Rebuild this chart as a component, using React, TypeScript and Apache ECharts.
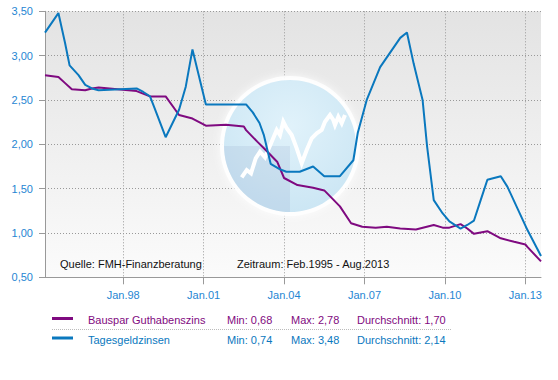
import React, { useEffect, useRef } from "react";
import * as echarts from "echarts";

// ---- data ----
const monthNames = ["Jan", "Feb", "Mär", "Apr", "Mai", "Jun", "Jul", "Aug", "Sep", "Okt", "Nov", "Dez"];
// monthly categories Feb.95 .. Aug.13
const categories: string[] = [];
for (let m = 0; m <= 222; m++) {
  const t = 1 + m;
  const year = 1995 + Math.floor(t / 12);
  categories.push(monthNames[t % 12] + "." + String(year % 100).padStart(2, "0"));
}
const tickYears = ["98", "01", "04", "07", "10", "13"];

const bausparDates = [
  "Feb.95", "Aug.95", "Nov.95", "Feb.96", "Aug.96", "Nov.96", "Feb.97", "Jul.98", "Jan.99", "Aug.99",
  "Feb.00", "Aug.00", "Nov.00", "Feb.01", "Nov.01", "Jul.02", "Aug.02", "Jan.03", "Mai.03", "Okt.03",
  "Jan.04", "Jul.04", "Feb.05", "Jul.05", "Feb.06", "Jul.06", "Dez.06", "Jun.07", "Nov.07", "Mai.08",
  "Dez.08", "Aug.09", "Dez.09", "Mär.10", "Aug.10", "Nov.10", "Feb.11", "Aug.11", "Feb.12", "Aug.12",
  "Jan.13", "Feb.13", "Aug.13",
];
const bausparValues = [
  2.78, 2.76, 2.69, 2.62, 2.61, 2.63, 2.64, 2.60, 2.54, 2.54,
  2.33, 2.29, 2.25, 2.21, 2.22, 2.20, 2.16, 2.03, 1.93, 1.80,
  1.62, 1.54, 1.51, 1.48, 1.30, 1.11, 1.07, 1.06, 1.07, 1.05,
  1.04, 1.09, 1.06, 1.06, 1.10, 1.05, 0.99, 1.02, 0.94, 0.90,
  0.87, 0.84, 0.68,
];

const tagesDates = [
  "Feb.95", "Aug.95", "Nov.95", "Jan.96", "Mai.96", "Aug.96", "Nov.96", "Feb.97", "Jul.98", "Okt.98",
  "Jan.99", "Mär.99", "Aug.99", "Feb.00", "Mai.00", "Aug.00", "Feb.01", "Aug.02", "Nov.02", "Feb.03",
  "Apr.03", "Jul.03", "Nov.03", "Feb.04", "Aug.04", "Feb.05", "Jul.05", "Feb.06", "Aug.06", "Okt.06",
  "Feb.07", "Aug.07", "Mai.08", "Aug.08", "Nov.08", "Mär.09", "Mai.09", "Aug.09", "Dez.09", "Mär.10",
  "Aug.10", "Nov.10", "Feb.11", "Mai.11", "Aug.11", "Feb.12", "Mai.12", "Feb.13", "Aug.13",
];
const tagesValues = [
  3.26, 3.48, 3.14, 2.89, 2.78, 2.67, 2.63, 2.61, 2.63, 2.59,
  2.54, 2.41, 2.08, 2.39, 2.65, 3.07, 2.45, 2.45, 2.36, 2.24,
  2.10, 1.78, 1.72, 1.69, 1.69, 1.75, 1.64, 1.64, 1.82, 2.13,
  2.50, 2.87, 3.20, 3.26, 2.91, 2.50, 1.98, 1.37, 1.22, 1.13,
  1.05, 1.09, 1.14, 1.37, 1.60, 1.64, 1.52, 1.03, 0.74,
];

const seriesNames = ["Bauspar Guthabenszins", "Tagesgeldzinsen"];
const seriesColors = ["#7f0a80", "#0a78be"];
const statMin = ["0,68", "0,74"];
const statMax = ["2,78", "3,48"];
const statAvg = ["1,70", "2,14"];

const sourceText = "Quelle: FMH-Finanzberatung";
const periodText = "Zeitraum: Feb.1995 - Aug.2013";

const globeLine = [
  [241.7, 177.3], [246.7, 170], [251, 173.3], [255.7, 158.3], [260, 151.7], [265, 157.3],
  [271.7, 141.7], [276.7, 130], [280, 135], [283.3, 121.7], [286.7, 128.3], [291.7, 135],
  [296.7, 148.3], [301.7, 163.3], [306.7, 150], [311.7, 138.3], [316.7, 133.3], [321.7, 130],
  [325, 121.7], [330, 115], [333.3, 120], [335, 125], [338.3, 116.7], [341.7, 123.3], [345, 115],
];

const FONT = "'Liberation Sans', Arial, sans-serif";
const isTick = (_i: number, v: string) =>
  v.startsWith("Jan.") && tickYears.includes(v.slice(4));

export default function App() {
  const ref = useRef<HTMLDivElement>(null);
  useEffect(() => {
    if (!ref.current) return;
    const chart = echarts.init(ref.current, undefined, { renderer: "svg" });

    const legendGraphics: any[] = [];
    const rowY = [320, 339.5];
    seriesNames.forEach((name, i) => {
      const y = rowY[i];
      const c = seriesColors[i];
      legendGraphics.push(
        { type: "line", shape: { x1: 52, y1: y - 1.5, x2: 73, y2: y - 1.5 }, style: { stroke: c, lineWidth: 3 } },
        { type: "text", x: 88, y, style: { text: name, fill: c, font: `11px ${FONT}`, textVerticalAlign: "middle" } },
        { type: "text", x: 227, y, style: { text: "Min: " + statMin[i], fill: c, font: `11px ${FONT}`, textVerticalAlign: "middle" } },
        { type: "text", x: 291, y, style: { text: "Max: " + statMax[i], fill: c, font: `11px ${FONT}`, textVerticalAlign: "middle" } },
        { type: "text", x: 357, y, style: { text: "Durchschnitt: " + statAvg[i], fill: c, font: `11px ${FONT}`, textVerticalAlign: "middle" } }
      );
    });
    legendGraphics.push({
      type: "line",
      shape: { x1: 52, y1: 329.5, x2: 452, y2: 329.5 },
      style: { stroke: "#bbbbbb", lineWidth: 1, lineDash: [1, 1] },
    });

    const option: any = {
      animation: false,
      backgroundColor: "#ffffff",
      grid: {
        left: 45,
        right: 17,
        top: 11.3,
        bottom: 102.7,
        show: true,
        borderWidth: 0,
        backgroundColor: new echarts.graphic.LinearGradient(0, 0, 0, 1, [
          { offset: 0, color: "#e3e3e3" },
          { offset: 1, color: "#fbfbfb" },
        ]),
      },
      xAxis: {
        type: "category",
        data: categories,
        boundaryGap: false,
        axisLine: { lineStyle: { color: "#999999", width: 1 } },
        axisTick: { show: true, interval: isTick, length: 7, lineStyle: { color: "#999999" } },
        axisLabel: {
          interval: isTick,
          color: "#1f86d3",
          fontFamily: FONT,
          fontSize: 11,
          margin: 12,
        },
        splitLine: {
          show: true,
          interval: isTick,
          lineStyle: { color: "#999999", type: [1, 2], width: 1 },
        },
      },
      yAxis: {
        type: "value",
        min: 0.5,
        max: 3.5,
        interval: 0.5,
        axisLine: { show: true, lineStyle: { color: "#999999", width: 1 } },
        axisTick: { show: true, length: 6, lineStyle: { color: "#999999" } },
        axisLabel: {
          color: "#1f86d3",
          fontFamily: FONT,
          fontSize: 11,
          margin: 12,
          formatter: (v: number) => v.toFixed(2).replace(".", ","),
        },
        splitLine: { show: true, lineStyle: { color: "#999999", type: [1, 2], width: 1 } },
      },
      graphic: [
        {
          type: "group",
          z: 1,
          children: [
            {
              type: "circle",
              shape: { cx: 290, cy: 146, r: 70 },
              style: { fill: "rgba(255,255,255,0.85)", shadowBlur: 8, shadowColor: "rgba(255,255,255,0.95)" },
              z: 1,
            },
            {
              type: "circle",
              shape: { cx: 290, cy: 146, r: 66 },
              style: {
                fill: new echarts.graphic.RadialGradient(0.5, 0.35, 0.75, [
                  { offset: 0, color: "#def1fa" },
                  { offset: 1, color: "#c4e2f2" },
                ]),
                opacity: 0.92,
              },
              z: 1,
            },
            {
              type: "sector",
              shape: { cx: 290, cy: 146, r: 66, r0: 0, startAngle: Math.PI / 2, endAngle: Math.PI },
              style: { fill: "rgba(150,170,205,0.2)" },
              z: 1,
            },
            {
              type: "polyline",
              shape: { points: globeLine },
              style: { stroke: "#ffffff", lineWidth: 4, fill: "none", lineJoin: "miter" },
              z: 1,
            },
          ],
        },
        {
          type: "text",
          x: 60,
          y: 264,
          z: 5,
          style: { text: sourceText, fill: "#111111", font: `11px ${FONT}`, textVerticalAlign: "middle" },
        },
        {
          type: "text",
          x: 237,
          y: 264,
          z: 5,
          style: { text: periodText, fill: "#111111", font: `11px ${FONT}`, textVerticalAlign: "middle" },
        },
        ...legendGraphics,
      ],
      series: [
        {
          name: seriesNames[0],
          type: "line",
          z: 3,
          showSymbol: false,
          symbol: "none",
          data: bausparDates.map((d, i) => [d, bausparValues[i]]),
          lineStyle: { color: seriesColors[0], width: 2 },
          itemStyle: { color: seriesColors[0] },
        },
        {
          name: seriesNames[1],
          type: "line",
          z: 4,
          showSymbol: false,
          symbol: "none",
          data: tagesDates.map((d, i) => [d, tagesValues[i]]),
          lineStyle: { color: seriesColors[1], width: 2 },
          itemStyle: { color: seriesColors[1] },
        },
      ],
    };
    chart.setOption(option);
    return () => chart.dispose();
  }, []);
  return <div ref={ref} style={{ width: 558, height: 380, position: "absolute", left: 0, top: 0 }} />;
}
